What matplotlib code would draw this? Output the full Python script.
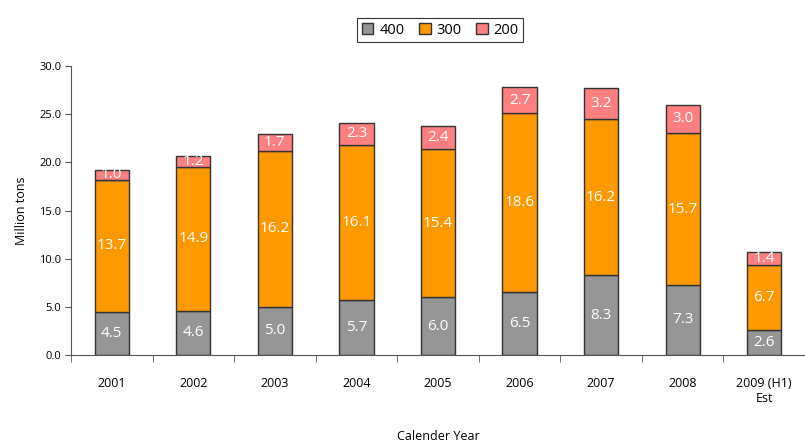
import numpy as np
import matplotlib as mpl
mpl.use('Agg')
import matplotlib.pyplot as plt

years = ['2001', '2002', '2003', '2004', '2005', '2006', '2007', '2008', '2009 (H1)\nEst']
s400 = [4.5, 4.6, 5.0, 5.7, 6.0, 6.5, 8.3, 7.3, 2.6]
s300 = [13.7, 14.9, 16.2, 16.1, 15.4, 18.6, 16.2, 15.7, 6.7]
s200 = [1.0, 1.2, 1.7, 2.3, 2.4, 2.7, 3.2, 3.0, 1.4]

plt.rcParams['font.family'] = ['Open Sans', 'DejaVu Sans']

fig = plt.figure(figsize=(8.05, 4.46), dpi=100)
ax = fig.add_axes([0.0882, 0.204, 0.9118, 0.648])

x = np.arange(len(years))
w = 0.42
series = [('400', s400, '#969696'), ('300', s300, '#FF9900'), ('200', s200, '#FF8080')]
bottom = np.zeros(len(years))
for name, vals, col in series:
    bars = ax.bar(x, vals, w, bottom=bottom, color=col, edgecolor='#333333',
                  linewidth=1.0, label=name)
    for b, v, b0 in zip(bars, vals, bottom):
        ax.text(b.get_x() + b.get_width() / 2, b0 + v / 2, '%.1f' % v,
                ha='center', va='center', color='white', fontsize=11)
    bottom += np.array(vals)

ax.set_xlim(-0.5, len(years) - 0.5)
ax.set_ylim(0, 30)
ax.set_yticks(np.arange(0, 30.1, 5))
ax.set_yticklabels(['%.1f' % v for v in np.arange(0, 30.1, 5)], fontsize=8)
ax.set_xticks(x)
ax.set_xticklabels(years, fontsize=9)
ax.tick_params(axis='x', length=0, pad=16)
ax.set_xticks(np.arange(-0.5, len(years)), minor=True)
ax.tick_params(axis='x', which='minor', length=5, color='#555555')
ax.tick_params(axis='y', length=4, color='#555555', pad=3)

for s in ['top', 'right']:
    ax.spines[s].set_visible(False)
for s in ['left', 'bottom']:
    ax.spines[s].set_color('#555555')

ax.set_ylabel('Million tons', fontsize=9, labelpad=8)
ax.set_xlabel('Calender Year', fontsize=9, labelpad=18)

handles, labels = ax.get_legend_handles_labels()
leg = fig.legend(handles, labels, loc='upper center', bbox_to_anchor=(0.547, 0.975),
                 ncol=3, fontsize=10.5, frameon=True, fancybox=False, edgecolor='black',
                 handlelength=0.8, handleheight=0.8, handletextpad=0.4,
                 columnspacing=1.0, borderpad=0.3)
leg.get_frame().set_linewidth(0.8)

fig.savefig('out.png', dpi=100)
